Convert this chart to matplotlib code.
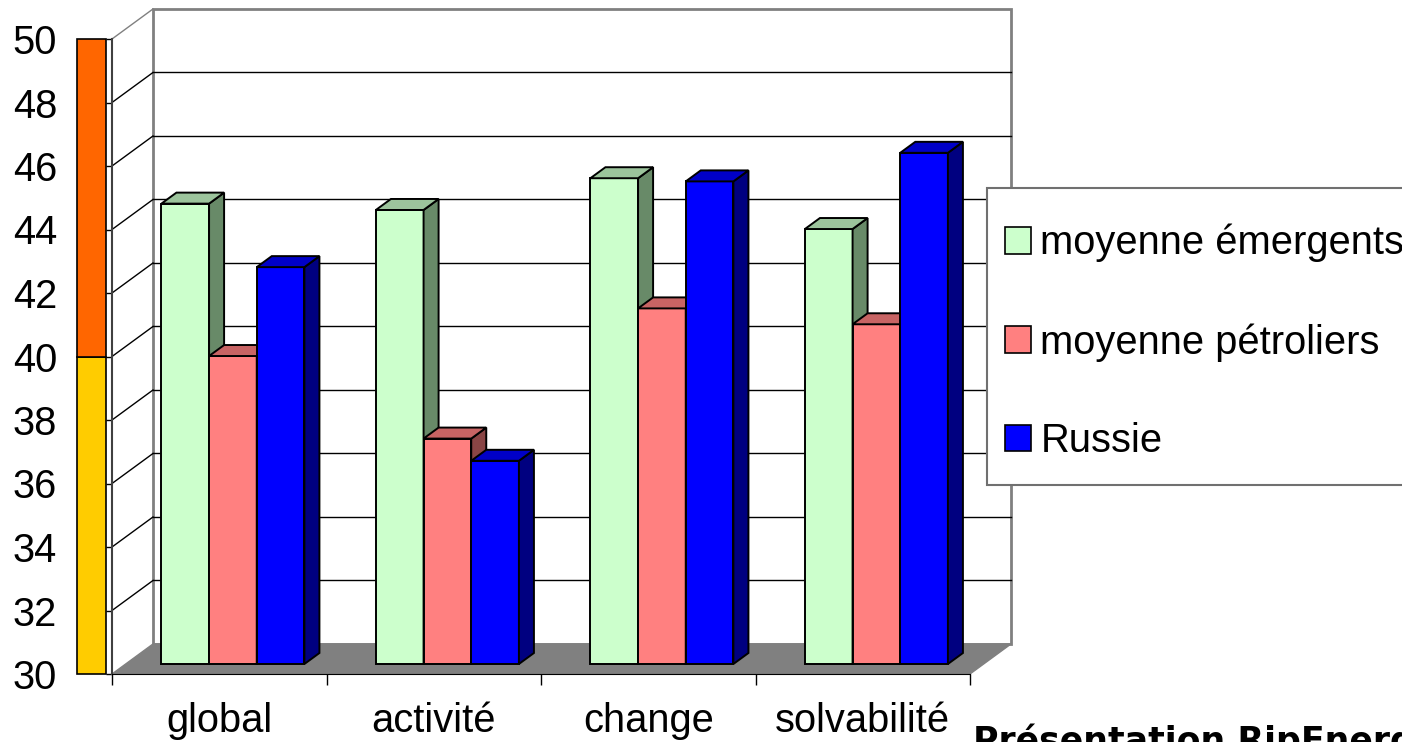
"""
3D-style grouped bar chart: scores of the emerging-market average,
the oil-producer average and Russia on four criteria.
"""

import matplotlib
matplotlib.use("Agg")
import matplotlib.pyplot as plt
from matplotlib.patches import Polygon, Rectangle, Patch

plt.rcParams['font.family'] = ['Liberation Sans', 'DejaVu Sans']

categories = ["global", "activité", "change", "solvabilité"]
series_names = ["moyenne émergents", "moyenne pétroliers", "Russie"]
emergents = [44.5, 44.3, 45.3, 43.7]
petroliers = [39.7, 37.1, 41.2, 40.7]
russie = [42.5, 36.4, 45.2, 46.1]
y_ticks = [30, 32, 34, 36, 38, 40, 42, 44, 46, 48, 50]
band_edges = [30, 40, 50]

FACE = ["#CCFFCC", "#FF8080", "#0000FF"]
TOP = ["#9CC49C", "#C86464", "#0000C8"]
SIDE = ["#688A68", "#8A4545", "#000080"]
BAND = ["#FFCC00", "#FF6600"]

YMIN, YMAX = 30, 50
DX, DY = 0.191, 0.945      # floor depth expressed in data units
BAR_W = 2.0 / 9
D0, D1 = 1.0 / 3, 0.70     # front / back depth of the bars
FS = 28.7


def draw_walls(ax, n):
    # back wall with its gridlines
    ax.add_patch(Rectangle((DX, YMIN + DY), n, YMAX - YMIN, facecolor="white",
                           edgecolor="#808080", lw=2, zorder=1, clip_on=False))
    for v in y_ticks[1:-1]:
        ax.plot([DX, n + DX], [v + DY, v + DY], color="black", lw=1,
                zorder=1.5, clip_on=False)
    # side wall gridlines
    for v in y_ticks[1:]:
        col = "#808080" if v == YMAX else "black"
        ax.plot([0, DX], [v, v + DY], color=col, lw=1, zorder=1.5,
                clip_on=False)
    # floor
    ax.add_patch(Polygon([(0, YMIN), (n, YMIN), (n + DX, YMIN + DY),
                          (DX, YMIN + DY)], closed=True, facecolor="#808080",
                         edgecolor="#808080", lw=1, zorder=2, clip_on=False))


def draw_bar(ax, x, v, k, z):
    dd = D1 - D0
    x0 = x + D0 * DX
    y0 = YMIN + D0 * DY
    top = v + D0 * DY
    ax.bar(x0, v - YMIN, width=BAR_W, bottom=y0, align="edge",
           color=FACE[k], edgecolor="black", lw=1.4, zorder=z)
    side = [(x0 + BAR_W, y0), (x0 + BAR_W + dd * DX, y0 + dd * DY),
            (x0 + BAR_W + dd * DX, top + dd * DY), (x0 + BAR_W, top)]
    ax.add_patch(Polygon(side, closed=True, facecolor=SIDE[k],
                         edgecolor="black", lw=1.4, zorder=z + 0.001,
                         clip_on=False))
    lid = [(x0, top), (x0 + BAR_W, top), (x0 + BAR_W + dd * DX, top + dd * DY),
           (x0 + dd * DX, top + dd * DY)]
    ax.add_patch(Polygon(lid, closed=True, facecolor=TOP[k],
                         edgecolor="black", lw=1.4, zorder=z + 0.002,
                         clip_on=False))


def main():
    fig = plt.figure(figsize=(14.02, 7.42), dpi=100)
    ax = fig.add_axes([112 / 1402., 68 / 742., 858 / 1402., 635 / 742.])
    ax.patch.set_visible(False)
    n = len(categories)
    ax.set_xlim(0, n)
    ax.set_ylim(YMIN, YMAX)

    draw_walls(ax, n)

    data = [emergents, petroliers, russie]
    z = 3.0
    for i in range(n):
        start = i + 0.5 - 1.5 * BAR_W
        for k in range(len(data)):
            draw_bar(ax, start + k * BAR_W, data[k][i], k, z)
            z += 0.01

    # coloured band left of the value axis
    for k in range(len(BAND)):
        ax.add_patch(Rectangle((-35 / 214.5, band_edges[k]), 29 / 214.5,
                               band_edges[k + 1] - band_edges[k],
                               facecolor=BAND[k], edgecolor="black", lw=1.2,
                               zorder=2, clip_on=False))

    for s in ["top", "right"]:
        ax.spines[s].set_visible(False)
    ax.spines["left"].set_color("#404040")
    ax.spines["left"].set_linewidth(1.5)
    ax.spines["bottom"].set_color("black")
    ax.spines["bottom"].set_zorder(2.5)

    ax.set_yticks(y_ticks)
    ax.set_yticklabels([str(t) for t in y_ticks])
    ax.tick_params(axis="y", direction="out", length=4.3, width=1,
                   pad=35.3, labelsize=FS)

    ax.set_xticks(range(n + 1))
    ax.set_xticklabels([""] * (n + 1))
    ax.set_xticks([i + 0.5 for i in range(n)], minor=True)
    ax.set_xticklabels(categories, minor=True)
    ax.tick_params(axis="x", which="major", direction="out", length=7.9,
                   width=1)
    ax.tick_params(axis="x", which="minor", length=0, pad=20.5,
                   labelsize=FS)

    # legend with a plain box
    fig.add_artist(Rectangle((987 / 1402., 1 - 485 / 742.), 0.35,
                             (485 - 188) / 742., transform=fig.transFigure,
                             facecolor="white", edgecolor="#707070", lw=1.5,
                             zorder=4))
    handles = [Patch(facecolor=FACE[k], edgecolor="black", lw=1.2)
               for k in range(len(series_names))]
    leg = fig.legend(handles, series_names, loc="center left",
                     bbox_to_anchor=(1005 / 1402., 1 - 342 / 742.),
                     frameon=False, borderpad=0, borderaxespad=0,
                     handlelength=0.657, handleheight=0.657,
                     handletextpad=0.23, labelspacing=1.52, fontsize=FS)
    leg.set_zorder(5)

    fig.text(973 / 1402., -0.0135, "Présentation RipEnergy",
             family="DejaVu Sans", weight="bold", size=25, va="baseline")

    fig.savefig("out.png", dpi=100)


if __name__ == "__main__":
    main()
